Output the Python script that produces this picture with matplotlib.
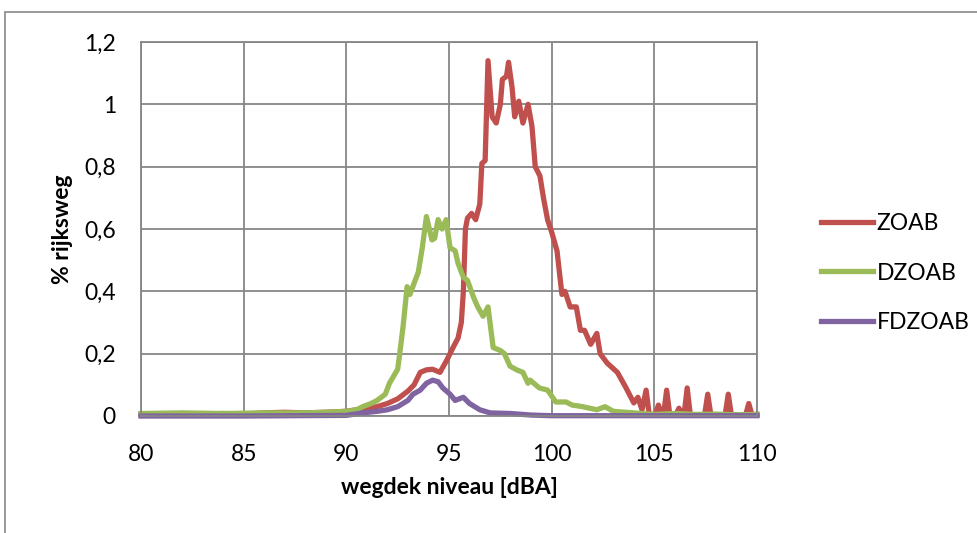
import numpy as np
import matplotlib.pyplot as plt
from matplotlib.patches import Rectangle
from matplotlib.ticker import FuncFormatter, MultipleLocator

# ZOAB
zoab_x = [80, 81, 82, 83, 84, 85, 86, 87, 88, 89, 90, 90.5, 91, 91.5, 92, 92.5, 93, 93.3, 93.6,
          93.9, 94.2, 94.56, 94.9, 95.2, 95.44, 95.6, 95.7, 95.8, 95.9, 96.1, 96.3, 96.5, 96.6,
          96.76, 96.9, 97.1, 97.3, 97.5, 97.6, 97.8, 97.9, 98.07, 98.2, 98.4, 98.6, 98.85, 99.04,
          99.2, 99.43, 99.6, 99.8, 100.0, 100.26, 100.5, 100.65, 100.9, 101.2, 101.4, 101.6,
          101.9, 102.2, 102.36, 102.7, 103.2, 103.6, 104.0, 104.2, 104.4, 104.6, 104.75, 105.05,
          105.2, 105.35, 105.45, 105.6, 105.75, 106.05, 106.2, 106.35, 106.45, 106.6, 106.75,
          107.45, 107.6, 107.75, 108.45, 108.6, 108.75, 109.45, 109.6, 109.75, 110]
zoab_y = [0.005, 0.006, 0.008, 0.006, 0.008, 0.006, 0.01, 0.012, 0.01, 0.012, 0.015, 0.02, 0.025,
          0.03, 0.04, 0.055, 0.08, 0.1, 0.14, 0.148, 0.15, 0.14, 0.18, 0.22, 0.25, 0.3, 0.40, 0.6,
          0.635, 0.65, 0.63, 0.68, 0.81, 0.82, 1.14, 0.96, 0.94, 1.0, 1.08, 1.09, 1.135, 1.055,
          0.96, 1.01, 0.94, 1.0, 0.93, 0.80, 0.77, 0.70, 0.63, 0.59, 0.53, 0.39, 0.40, 0.35,
          0.35, 0.275, 0.275, 0.23, 0.265, 0.20, 0.17, 0.14, 0.093, 0.042, 0.06, 0.02, 0.083,
          0.005, 0.005, 0.035, 0.005, 0.005, 0.083, 0.005, 0.005, 0.025, 0.005, 0.005, 0.09,
          0.004, 0.004, 0.07, 0.004, 0.004, 0.07, 0.004, 0.004, 0.04, 0.004, 0.005]

# DZOAB
dzoab_x = [80, 82, 84, 86, 88, 89, 90, 90.5, 90.8, 91.2, 91.5, 91.9, 92.1, 92.5, 92.6, 92.76,
           92.96, 93.1, 93.35, 93.5, 93.7, 93.9, 94.17, 94.3, 94.47, 94.66, 94.86, 95.05, 95.3,
           95.44, 95.7, 95.9, 96.2, 96.4, 96.66, 96.9, 97.15, 97.5, 97.7, 97.97, 98.3, 98.6,
           98.85, 98.95, 99.4, 99.8, 100.2, 100.7, 101.0, 101.5, 102.2, 102.6, 103.0, 104.0, 105,
           106, 107, 108, 109, 110]
dzoab_y = [0.008, 0.01, 0.008, 0.01, 0.01, 0.012, 0.015, 0.02, 0.03, 0.04, 0.05, 0.07, 0.105,
           0.15, 0.20, 0.285, 0.415, 0.39, 0.435, 0.46, 0.54, 0.64, 0.565, 0.57, 0.63, 0.60, 0.63,
           0.54, 0.53, 0.49, 0.445, 0.435, 0.38, 0.35, 0.32, 0.35, 0.22, 0.21, 0.20, 0.16, 0.148,
           0.14, 0.105, 0.115, 0.09, 0.083, 0.045, 0.045, 0.035, 0.03, 0.02, 0.03, 0.015, 0.01,
           0.005, 0.008, 0.005, 0.006, 0.004, 0.005]

# FDZOAB
fdzoab_x = [80, 85, 90, 90.8, 91.5, 92, 92.5, 93.0, 93.25, 93.6, 93.9, 94.2, 94.47, 94.7, 95.05,
            95.3, 95.7, 96.0, 96.5, 97.0, 98.0, 99.0, 100, 110]
fdzoab_y = [0.0, 0.0, 0.002, 0.01, 0.015, 0.02, 0.03, 0.05, 0.07, 0.083, 0.105, 0.115, 0.11,
            0.09, 0.07, 0.05, 0.06, 0.04, 0.02, 0.01, 0.008, 0.003, 0.001, 0.001]

plt.rcParams['font.family'] = ['Lato', 'DejaVu Sans']

fig = plt.figure(figsize=(9.78, 5.33), dpi=100)
ax = fig.add_axes([141/978, 1-416/533, (757-141)/978, (416-42)/533])

# chart frame
fig.patches.append(Rectangle((5/978, -0.1), 1.1, 1.1 - 12/533, transform=fig.transFigure,
                             fill=False, edgecolor='#888888', linewidth=1.2))

lw = 3.8
ax.plot(zoab_x, zoab_y, color='#C0504D', lw=lw, label='ZOAB', clip_on=False, solid_joinstyle='round')
ax.plot(dzoab_x, dzoab_y, color='#9BBB59', lw=lw, label='DZOAB', clip_on=False, solid_joinstyle='round')
ax.plot(fdzoab_x, fdzoab_y, color='#8064A2', lw=lw, label='FDZOAB', clip_on=False, solid_joinstyle='round')

ax.set_xlim(80, 110)
ax.set_ylim(0, 1.2)
ax.xaxis.set_major_locator(MultipleLocator(5))
ax.yaxis.set_major_locator(MultipleLocator(0.2))
ax.yaxis.set_major_formatter(FuncFormatter(lambda v, p: ('%g' % round(v, 1)).replace('.', ',')))
ax.grid(True, color='#868686', lw=1.3)
ax.set_axisbelow(True)
for s in ax.spines.values():
    s.set_color('#868686')
    s.set_linewidth(1.3)
ax.tick_params(axis='both', length=0, labelsize=16.5)
ax.tick_params(axis='x', pad=20)
ax.tick_params(axis='y', pad=18)

ax.set_xlabel('wegdek niveau [dBA]', fontsize=16.5, fontweight='bold', labelpad=9)
ax.set_ylabel('% rijksweg', fontsize=16.5, fontweight='bold', labelpad=8)

fig.legend(loc='center left', bbox_to_anchor=(810/978, 1-273/533), frameon=False,
           fontsize=16.5, handlelength=2.25, handletextpad=0.15, labelspacing=1.25, borderpad=0)

fig.savefig('out.png', dpi=100)
